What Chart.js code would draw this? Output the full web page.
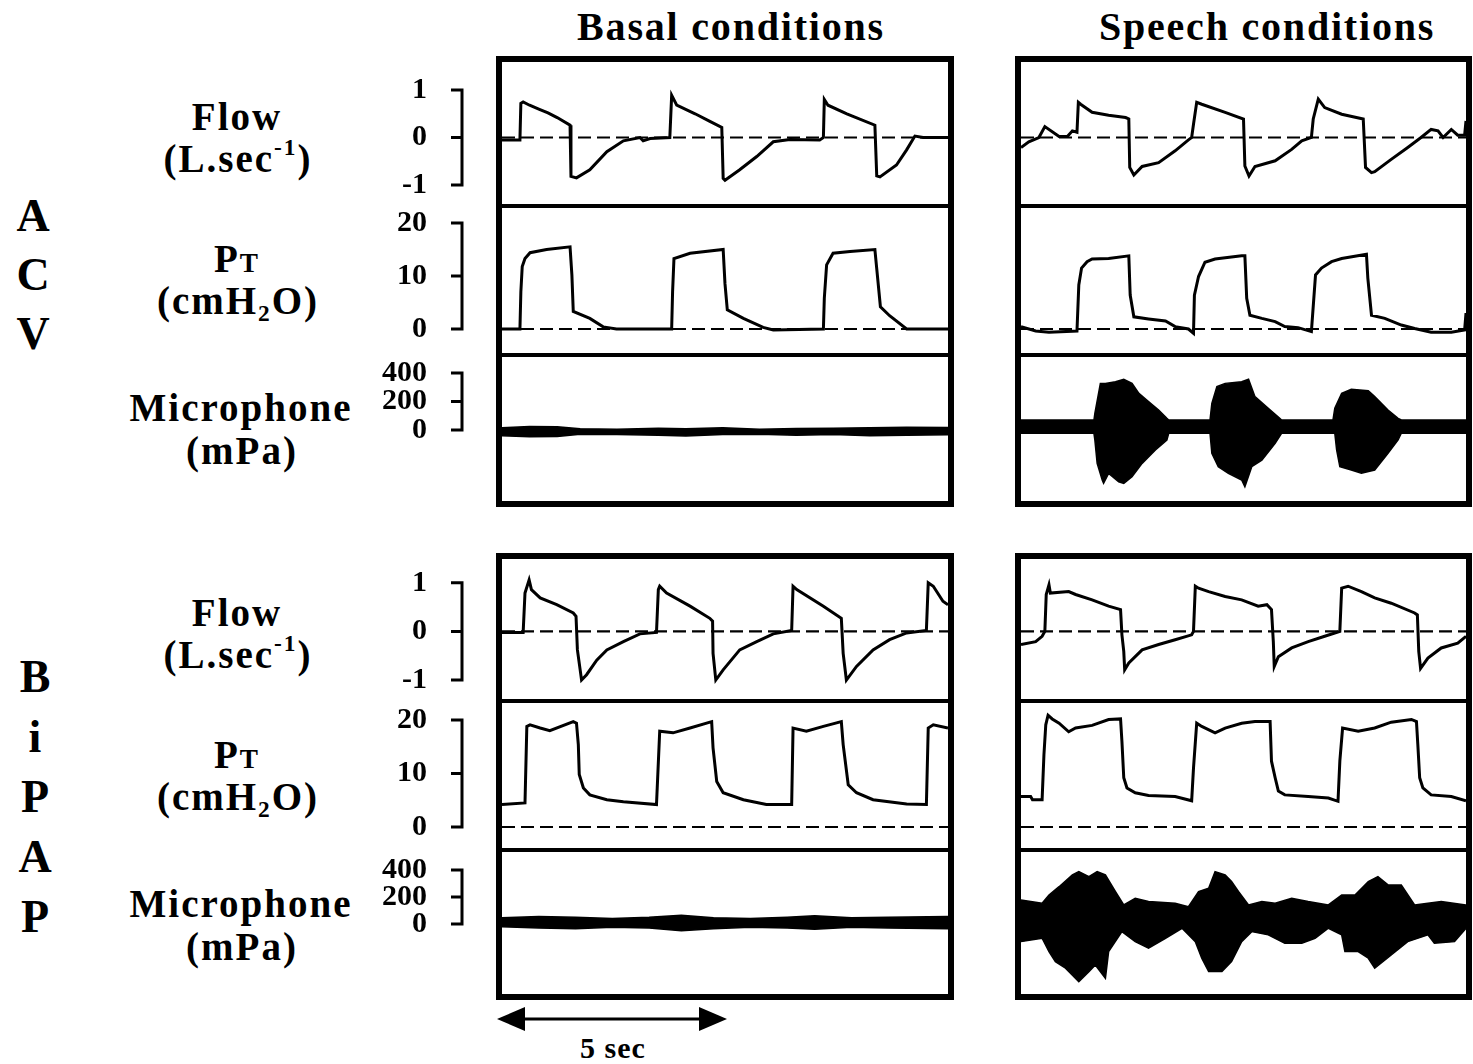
<!DOCTYPE html>
<html>
<head>
<meta charset="utf-8">
<title>ACV / BiPAP - basal and speech conditions</title>
<script src="https://cdn.jsdelivr.net/npm/chart.js@4.4.1/dist/chart.umd.min.js"></script>
<style>
  body { margin: 0; background: #fff; }
  #page { position: relative; width: 1473px; height: 1064px; overflow: hidden;
          font-family: "Liberation Serif", "Times New Roman", serif; font-weight: bold; color: #000; }
  .txt { position: absolute; white-space: nowrap; transform: translate(-50%, -50%); line-height: 1; }
  .title { font-size: 40px; letter-spacing: 1.8px; }
  .label { font-size: 39px; letter-spacing: 2px; }
  .big { font-size: 46px; }
  .small { font-size: 30px; letter-spacing: 1px; }
  .sc { font-size: 70%; }
  sup { font-size: 60%; vertical-align: 0.7em; line-height: 0; }
  sub { font-size: 60%; vertical-align: -0.3em; line-height: 0; }
  .panel { position: absolute; border: 6px solid #000; box-sizing: border-box; }
  .divider { position: absolute; height: 4px; background: #000; }
  canvas { position: absolute; }
</style>
</head>
<body>
<div id="page"></div>
<script>
// Time window (seconds) and tick labels
const timeWindow = [0, 9.7];
const flowTicks = [-1, 0, 1];
const ptTicks = [0, 10, 20];
const micTicks = [0, 200, 400];
const zeroLine = [[0, 0], [9.7, 0]];

// ACV - basal conditions  [time s, value]
const acvBasalFlow = [[0, -0.05], [0.39, -0.05], [0.41, 0.72], [0.46, 0.75], [0.6, 0.68], [0.8, 0.6], [1.0, 0.52],
  [1.2, 0.42], [1.48, 0.26], [1.50, -0.82], [1.62, -0.85], [1.91, -0.68], [2.28, -0.3], [2.64, -0.07], [3.0, 0],
  [3.07, -0.07], [3.22, -0.02], [3.65, 0], [3.69, 0.89], [3.80, 0.68], [4.2, 0.5], [4.5, 0.35], [4.78, 0.21],
  [4.81, -0.86], [4.85, -0.9], [5.17, -0.68], [5.54, -0.40], [5.90, -0.09], [6.26, -0.04], [6.91, -0.05], [6.99, 0],
  [7.01, 0.80], [7.09, 0.68], [7.5, 0.5], [8.11, 0.26], [8.15, -0.81], [8.22, -0.83], [8.58, -0.58], [8.80, -0.26],
  [8.98, 0.03], [9.16, 0], [9.7, 0]];
const acvBasalPt = [[0, 0], [0.39, 0], [0.41, 7.0], [0.44, 11.8], [0.50, 13.3], [0.61, 14.4], [0.97, 15.0], [1.48, 15.5],
  [1.52, 10.2], [1.55, 3.3], [1.91, 2.0], [2.20, 0.4], [2.49, 0], [3.69, 0], [3.71, 7.0], [3.74, 13.3], [4.09, 14.3],
  [4.81, 15.0], [4.85, 8.5], [4.90, 3.6], [5.25, 2.0], [5.68, 0.3], [5.90, -0.2], [6.99, 0], [7.01, 5.8], [7.06, 12.1],
  [7.20, 14.3], [7.57, 14.6], [8.11, 15.0], [8.15, 11.4], [8.23, 4.2], [8.43, 2.5], [8.80, 0], [9.7, 0]];
const acvBasalMicUpper = [[0, 15], [0.6, 25], [1.2, 22], [1.7, 8], [2.5, 5], [3.4, 12], [4.0, 8], [4.8, 15],
  [5.6, 5], [6.4, 10], [7.2, 12], [8.0, 15], [8.8, 20], [9.7, 18]];
const acvBasalMicLower = [[0, -40], [0.6, -48], [1.2, -45], [1.7, -30], [2.5, -32], [3.4, -36], [4.0, -42], [4.8, -32],
  [5.6, -30], [6.4, -36], [7.2, -32], [8.0, -40], [8.8, -36], [9.7, -34]];

// ACV - speech conditions
const acvSpeechFlow = [[0, -0.21], [0.17, -0.09], [0.39, 0], [0.52, 0.23], [0.83, 0.02], [1.01, 0.02], [1.12, 0.14],
  [1.22, 0.11], [1.25, 0.74], [1.30, 0.70], [1.55, 0.53], [1.91, 0.47], [2.28, 0.42], [2.35, 0.39], [2.37, -0.63],
  [2.46, -0.79], [2.64, -0.61], [3.0, -0.53], [3.36, -0.28], [3.65, -0.05], [3.72, 0], [3.76, 0.28], [3.83, 0.74],
  [3.94, 0.70], [4.45, 0.53], [4.85, 0.39], [4.88, -0.60], [4.97, -0.81], [5.10, -0.61], [5.54, -0.49], [5.90, -0.25],
  [6.12, -0.07], [6.33, 0], [6.37, 0.39], [6.48, 0.81], [6.62, 0.63], [6.99, 0.49], [7.46, 0.39], [7.51, -0.63],
  [7.64, -0.74], [7.71, -0.72], [8.07, -0.46], [8.43, -0.21], [8.72, 0], [8.94, 0.17], [9.09, 0.14], [9.20, 0],
  [9.38, 0.17], [9.52, 0.05], [9.67, 0.05], [9.70, 0.35]];
const acvSpeechPt = [[0, 0.45], [0.32, -0.38], [0.61, -0.62], [1.22, -0.4], [1.26, 8.3], [1.32, 11.5], [1.44, 12.7],
  [1.55, 13.2], [1.91, 13.3], [2.35, 13.8], [2.38, 6.4], [2.46, 2.3], [2.78, 1.9], [3.15, 1.5], [3.36, 0.45], [3.65, 0],
  [3.76, -0.8], [3.78, 6.4], [3.87, 9.9], [4.01, 12.6], [4.23, 13.2], [4.81, 13.8], [4.88, 13.8], [4.92, 5.8],
  [4.99, 2.6], [5.25, 2.0], [5.54, 1.4], [5.75, 0.45], [6.04, 0.25], [6.33, -0.5], [6.42, 10.2], [6.55, 11.5],
  [6.77, 12.7], [6.99, 13.3], [7.53, 14.1], [7.56, 9.6], [7.64, 2.6], [7.93, 2.0], [8.29, 0.75], [8.58, 0.1],
  [8.94, -0.62], [9.38, -0.62], [9.67, -0.2], [9.70, 3.0]];
const acvSpeechMicUpper = [[0, 70], [1.59, 70], [1.61, 117], [1.73, 327], [1.84, 327], [2.06, 339], [2.24, 356],
  [2.42, 327], [2.57, 257], [2.78, 199], [3.0, 140], [3.18, 82], [3.22, 70], [4.12, 70], [4.16, 187], [4.27, 304],
  [4.45, 327], [4.81, 339], [4.96, 356], [5.10, 234], [5.39, 152], [5.64, 82], [5.68, 70], [6.80, 70], [6.84, 152],
  [6.99, 257], [7.20, 285], [7.57, 276], [7.71, 234], [8.0, 140], [8.22, 82], [8.29, 70], [9.7, 70]];
const acvSpeechMicLower = [[0, -23], [1.59, -23], [1.61, -70], [1.66, -234], [1.77, -351], [1.80, -374], [1.91, -304],
  [2.13, -363], [2.24, -374], [2.42, -327], [2.64, -234], [2.93, -140], [3.18, -70], [3.22, -23], [4.12, -23],
  [4.16, -164], [4.30, -257], [4.52, -304], [4.81, -351], [4.88, -398], [5.03, -257], [5.25, -211], [5.54, -94],
  [5.68, -23], [6.84, -23], [6.88, -140], [6.95, -257], [7.20, -281], [7.42, -304], [7.71, -281], [8.0, -164],
  [8.22, -70], [8.29, -23], [9.7, -23]];

// BiPAP - basal conditions
const bipapBasalFlow = [[0, -0.02], [0.46, -0.02], [0.50, 0.79], [0.59, 1.06], [0.64, 0.86], [0.83, 0.69], [1.19, 0.55],
  [1.55, 0.38], [1.61, 0.31], [1.64, -0.38], [1.70, -0.79], [1.73, -1.0], [1.84, -0.89], [2.06, -0.59], [2.28, -0.38],
  [2.64, -0.21], [3.0, -0.05], [3.36, -0.02], [3.40, 0.86], [3.43, 0.93], [3.58, 0.79], [4.09, 0.52], [4.52, 0.27],
  [4.58, 0.21], [4.59, -0.45], [4.65, -1.0], [4.81, -0.79], [5.17, -0.38], [5.54, -0.21], [5.90, -0.05], [6.30, 0.02],
  [6.33, 0.93], [6.41, 0.86], [6.99, 0.52], [7.38, 0.27], [7.42, -0.45], [7.49, -1.0], [7.71, -0.72], [8.07, -0.38],
  [8.43, -0.17], [8.80, -0.03], [9.23, 0.02], [9.27, 1.0], [9.38, 0.93], [9.59, 0.62], [9.7, 0.55]];
const bipapBasalPt = [[0, 4.2], [0.50, 4.5], [0.54, 18.8], [0.61, 19.1], [0.83, 18.5], [1.04, 18.0], [1.55, 19.7],
  [1.62, 19.4], [1.66, 15.4], [1.68, 9.8], [1.77, 7.3], [1.91, 6.0], [2.28, 5.1], [2.64, 4.7], [3.36, 4.2], [3.43, 17.9],
  [3.72, 17.6], [4.09, 18.5], [4.56, 19.7], [4.59, 14.8], [4.67, 8.5], [4.81, 6.4], [5.25, 5.1], [5.75, 4.2], [6.30, 4.2],
  [6.33, 18.5], [6.62, 17.9], [6.99, 18.8], [7.38, 19.7], [7.42, 15.4], [7.53, 7.9], [7.71, 6.4], [8.07, 5.1],
  [8.80, 4.3], [9.23, 4.2], [9.27, 18.5], [9.38, 19.1], [9.7, 18.5]];
const bipapBasalMicUpper = [[0, 45], [0.8, 55], [1.6, 50], [2.4, 40], [3.2, 50], [3.9, 65], [4.6, 45], [5.4, 40],
  [6.2, 50], [6.8, 60], [7.6, 45], [8.4, 50], [9.7, 55]];
const bipapBasalMicLower = [[0, -20], [0.8, -30], [1.6, -35], [2.4, -25], [3.2, -30], [3.9, -50], [4.6, -35],
  [5.4, -25], [6.2, -30], [6.8, -40], [7.6, -25], [8.4, -30], [9.7, -35]];

// BiPAP - speech conditions
const bipapSpeechFlow = [[0, -0.27], [0.32, -0.21], [0.46, -0.10], [0.52, 0], [0.55, 0.76], [0.61, 0.96], [0.64, 0.79],
  [1.04, 0.82], [1.19, 0.76], [1.55, 0.65], [1.91, 0.52], [2.17, 0.45], [2.20, -0.07], [2.24, -0.41], [2.26, -0.79],
  [2.35, -0.65], [2.64, -0.38], [3.0, -0.27], [3.36, -0.17], [3.72, -0.07], [3.76, 0], [3.80, 0.93], [3.87, 0.89],
  [4.09, 0.82], [4.45, 0.72], [4.81, 0.65], [5.17, 0.52], [5.36, 0.55], [5.46, 0.45], [5.50, -0.21], [5.52, -0.72],
  [5.61, -0.52], [5.90, -0.34], [6.26, -0.21], [6.62, -0.10], [6.95, 0], [6.99, 0.89], [7.13, 0.93], [7.42, 0.82],
  [7.71, 0.69], [8.07, 0.58], [8.58, 0.38], [8.64, 0.34], [8.67, -0.41], [8.71, -0.76], [8.87, -0.55], [9.16, -0.34],
  [9.52, -0.24], [9.7, -0.10]];
const bipapSpeechPt = [[0, 5.7], [0.21, 5.7], [0.25, 5.1], [0.46, 5.1], [0.50, 13.5], [0.54, 19.1], [0.59, 20.9],
  [0.68, 20.2], [0.83, 19.4], [1.04, 17.8], [1.19, 18.5], [1.55, 19.0], [1.91, 20.1], [2.17, 20.2], [2.20, 16.0],
  [2.24, 9.2], [2.31, 7.3], [2.49, 6.4], [2.78, 5.9], [3.36, 5.7], [3.72, 4.9], [3.76, 11.0], [3.83, 19.4], [3.94, 18.8],
  [4.23, 17.6], [4.45, 18.5], [4.81, 19.4], [5.10, 19.7], [5.43, 19.7], [5.46, 12.3], [5.54, 9.2], [5.61, 6.7],
  [5.75, 6.0], [6.26, 5.7], [6.70, 5.4], [6.91, 4.8], [6.95, 12.3], [7.01, 18.5], [7.35, 17.9], [7.71, 18.5],
  [8.07, 19.6], [8.51, 20.1], [8.62, 19.7], [8.65, 15.4], [8.69, 9.2], [8.76, 7.3], [8.94, 6.0], [9.38, 5.7], [9.7, 4.9]];
const bipapSpeechMicUpper = [[0, 178], [0.46, 153], [0.61, 215], [0.83, 276], [1.12, 363], [1.26, 388], [1.48, 351],
  [1.66, 388], [1.84, 363], [2.06, 240], [2.24, 141], [2.49, 190], [2.78, 166], [3.36, 153], [3.65, 128], [3.87, 240],
  [4.09, 264], [4.23, 388], [4.45, 363], [4.59, 314], [4.74, 240], [4.96, 141], [5.25, 166], [5.54, 153], [5.90, 190],
  [6.26, 166], [6.70, 141], [6.99, 215], [7.28, 215], [7.57, 314], [7.78, 351], [8.0, 289], [8.29, 289], [8.58, 141],
  [8.87, 153], [9.16, 166], [9.7, 141]];
const bipapSpeechMicLower = [[0, -131], [0.46, -106], [0.61, -205], [0.75, -279], [0.97, -328], [1.26, -427],
  [1.48, -353], [1.62, -304], [1.84, -402], [1.91, -205], [2.20, -57], [2.49, -131], [2.78, -180], [3.15, -106],
  [3.51, -32], [3.80, -131], [3.94, -254], [4.09, -353], [4.38, -353], [4.59, -279], [4.81, -131], [5.03, -57],
  [5.39, -81], [5.75, -143], [6.12, -143], [6.41, -106], [6.70, -32], [6.99, -81], [7.06, -205], [7.35, -205],
  [7.57, -254], [7.71, -328], [8.07, -230], [8.43, -131], [8.87, -81], [9.01, -143], [9.45, -131], [9.7, -32]];

document.addEventListener("DOMContentLoaded", () => {
  const page = document.getElementById("page");
  const FONT = '"Liberation Serif", "Times New Roman", serif';
  const AXIS_LEFT = 370;

  // Bracket-style y axis (vertical bar with ticks, left of the panel)
  const bracketPlugin = {
    id: "bracket",
    afterDraw(chart, args, opts) {
      if (!opts.show) return;
      const yScale = chart.scales.y;
      const { ctx, chartArea } = chart;
      const x = chartArea.left - 40;
      const pix = yScale.ticks.map(t => yScale.getPixelForValue(t.value));
      ctx.save();
      ctx.strokeStyle = "#000";
      ctx.lineWidth = 3;
      ctx.beginPath();
      ctx.moveTo(x, Math.min(...pix) - 1.5);
      ctx.lineTo(x, Math.max(...pix) + 1.5);
      pix.forEach(p => { ctx.moveTo(x - 11, p); ctx.lineTo(x + 1.5, p); });
      ctx.stroke();
      ctx.restore();
    }
  };

  function toXY(points) {
    return points.map(p => ({ x: p[0], y: p[1] }));
  }

  function traceSets(points) {
    return [
      { data: toXY(points), borderColor: "#000", borderWidth: 3, pointRadius: 0 },
      { data: toXY(zeroLine), borderColor: "#000", borderWidth: 2.2, borderDash: [13, 6], pointRadius: 0 }
    ];
  }

  function bandSets(upper, lower) {
    return [
      { data: toXY(upper), borderColor: "#000", borderWidth: 1.5, pointRadius: 0, fill: false },
      { data: toXY(lower), borderColor: "#000", borderWidth: 1.5, pointRadius: 0, fill: "-1", backgroundColor: "#000" }
    ];
  }

  function addText(html, x, y, cls) {
    const d = document.createElement("div");
    d.className = "txt " + cls;
    d.innerHTML = html;
    d.style.left = x + "px";
    d.style.top = y + "px";
    page.appendChild(d);
  }

  // One row of a panel = one chart
  function makeRow(cfg) {
    const canvas = document.createElement("canvas");
    const left = cfg.axis ? AXIS_LEFT : cfg.innerLeft;
    canvas.width = cfg.innerRight - left;
    canvas.height = cfg.height;
    canvas.style.left = left + "px";
    canvas.style.top = cfg.top + "px";
    page.appendChild(canvas);

    return new Chart(canvas.getContext("2d"), {
      type: "line",
      data: { datasets: cfg.datasets },
      options: {
        responsive: false,
        animation: false,
        layout: { padding: 0 },
        plugins: {
          legend: { display: false },
          tooltip: { enabled: false },
          bracket: { show: cfg.axis }
        },
        elements: { line: { tension: 0 } },
        scales: {
          x: { type: "linear", min: timeWindow[0], max: timeWindow[1], display: false },
          y: {
            type: "linear",
            min: cfg.range[0],
            max: cfg.range[1],
            display: cfg.axis,
            grid: { display: false, drawTicks: false },
            border: { display: false },
            afterBuildTicks: s => { s.ticks = cfg.ticks.map(v => ({ value: v })); },
            afterFit: s => {
              s.width = cfg.axis ? cfg.innerLeft - AXIS_LEFT : 0;
              s.paddingTop = 0;
              s.paddingBottom = 0;
            },
            ticks: {
              autoSkip: false,
              padding: 75,
              color: "#000",
              font: { family: FONT, size: 30, weight: "bold" },
              callback: v => String(v)
            }
          }
        }
      },
      plugins: [bracketPlugin]
    });
  }

  // Panel frame + its three charts
  function makePanel(p) {
    const frame = document.createElement("div");
    frame.className = "panel";
    frame.style.left = p.left + "px";
    frame.style.top = p.top + "px";
    frame.style.width = p.width + "px";
    frame.style.height = p.height + "px";
    page.appendChild(frame);

    const innerLeft = p.left + 6;
    const innerRight = p.left + p.width - 6;
    const charts = [];
    p.rows.forEach((row, i) => {
      if (i > 0) {
        const div = document.createElement("div");
        div.className = "divider";
        div.style.left = p.left + "px";
        div.style.width = p.width + "px";
        div.style.top = (row[0] - 4) + "px";
        page.appendChild(div);
      }
      charts.push(makeRow({
        axis: p.axis,
        innerLeft, innerRight,
        top: row[0],
        height: row[1],
        range: p.ranges[i],
        ticks: [flowTicks, ptTicks, micTicks][i],
        datasets: p.sets[i]
      }));
    });
    return charts;
  }

  const acvRows = [[62, 142], [208, 145], [357, 144]];
  const bipapRows = [[559, 140], [703, 145], [852, 142]];
  const acvRanges = [[-1.40, 1.59], [-4.53, 22.83], [-498, 512]];
  const bipapRanges = [[-1.39, 1.49], [-3.93, 23.18], [-519, 533]];

  const basalCharts = makePanel({
    left: 496, top: 56, width: 458, height: 451, rows: acvRows, ranges: acvRanges, axis: true,
    sets: [traceSets(acvBasalFlow), traceSets(acvBasalPt), bandSets(acvBasalMicUpper, acvBasalMicLower)]
  });
  makePanel({
    left: 1015, top: 56, width: 457, height: 451, rows: acvRows, ranges: acvRanges, axis: false,
    sets: [traceSets(acvSpeechFlow), traceSets(acvSpeechPt), bandSets(acvSpeechMicUpper, acvSpeechMicLower)]
  });
  makePanel({
    left: 496, top: 553, width: 458, height: 447, rows: bipapRows, ranges: bipapRanges, axis: true,
    sets: [traceSets(bipapBasalFlow), traceSets(bipapBasalPt), bandSets(bipapBasalMicUpper, bipapBasalMicLower)]
  });
  makePanel({
    left: 1015, top: 553, width: 457, height: 447, rows: bipapRows, ranges: bipapRanges, axis: false,
    sets: [traceSets(bipapSpeechFlow), traceSets(bipapSpeechPt), bandSets(bipapSpeechMicUpper, bipapSpeechMicLower)]
  });

  // Titles and row labels
  addText("Basal conditions", 731, 27, "title");
  addText("Speech conditions", 1267, 27, "title");
  [0, 496].forEach(dy => {
    addText("Flow", 237, 116 + dy, "label");
    addText("(L.sec<sup>-1</sup>)", 238, 158 + dy, "label");
    addText('P<span class="sc">T</span>', 237, 258 + dy, "label");
    addText("(cmH<sub>2</sub>O)", 238, 300 + dy, "label");
    addText("Microphone", 241, 407 + dy, "label");
    addText("(mPa)", 242, 450 + dy, "label");
  });
  [["A", 216], ["C", 275], ["V", 334]].forEach(([t, y]) => addText(t, 33, y, "big"));
  [["B", 677], ["i", 737], ["P", 797], ["A", 857], ["P", 917]].forEach(([t, y]) => addText(t, 35, y, "big"));

  // 5 sec scale arrow, length taken from the time axis
  const xs = basalCharts[0].scales.x;
  const len = Math.round(xs.getPixelForValue(5) - xs.getPixelForValue(0));
  const svgNS = "http://www.w3.org/2000/svg";
  const svg = document.createElementNS(svgNS, "svg");
  svg.setAttribute("width", len + 4);
  svg.setAttribute("height", 30);
  svg.style.position = "absolute";
  svg.style.left = "495px";
  svg.style.top = "1004px";
  svg.innerHTML =
    `<line x1="20" y1="15" x2="${len - 16}" y2="15" stroke="#000" stroke-width="3"/>` +
    `<polygon points="2,15 30,3 30,27" fill="#000"/>` +
    `<polygon points="${len + 2},15 ${len - 26},3 ${len - 26},27" fill="#000"/>`;
  page.appendChild(svg);
  addText("5 sec", 613, 1048, "small");
});
</script>
</body>
</html>
